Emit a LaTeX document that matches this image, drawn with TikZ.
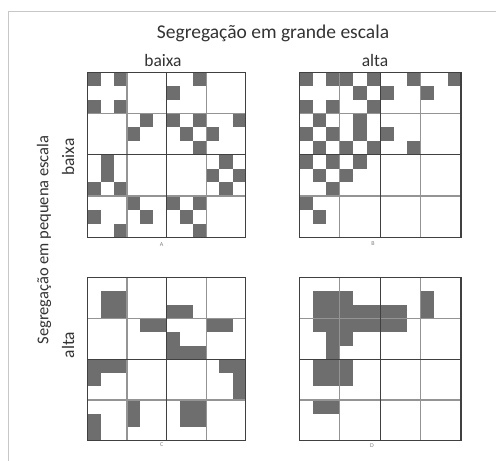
\documentclass[tikz,border=0pt]{standalone}
\usepackage{fontspec}
\setmainfont{Carlito}
\tikzset{
  gfill/.style={fill=black!57},
  thinline/.style={draw=black!42, line width=1.2pt},
  thickline/.style={draw=black!75, line width=1.3pt},
  framel/.style={draw=black!22, line width=1pt},
  lbl/.style={text=black!80, font=\fontsize{17.5}{20}\selectfont, inner sep=0pt},
  ttl/.style={text=black!80, font=\fontsize{19.5}{22}\selectfont, inner sep=0pt},
  vlbl/.style={text=black!80, font=\fontsize{16.5}{19}\selectfont, inner sep=0pt, rotate=90},
  vlbl2/.style={text=black!80, font=\fontsize{17.5}{20}\selectfont, inner sep=0pt, rotate=90},
  tiny/.style={text=black!50, font=\fontsize{6}{7}\selectfont, inner sep=0pt}
}
\newcommand\mygridlines{%
  \foreach \k in {3,9} {\draw[thinline] (\k,0) -- (\k,12); \draw[thinline] (0,\k) -- (12,\k);}
  \draw[thickline] (6,0) -- (6,12);
  \draw[thickline] (0,6) -- (12,6);
  \draw[thickline] (0,0) rectangle (12,12);
}
\begin{document}
\begin{tikzpicture}[x=1pt,y=-1pt]
\useasboundingbox (0,0) rectangle (496,461);
\fill[white] (0,0) rectangle (496,461);
% frame (top and left edges)
\draw[framel] (8.3,461) -- (8.3,11.7) -- (496,11.7);
% titles
\node[ttl] (title) at (273,33) {Segregação em grande escala};
\node[lbl] (colA) at (163,60) {baixa};
\node[lbl] (colB) at (375,60) {alta};
\node[vlbl] (vtitle) at (44,240) {Segregação em pequena escala};
\node[vlbl2] (rowA) at (68,157) {baixa};
\node[vlbl2] (rowC) at (68,345) {alta};
% Grid A
\begin{scope}[shift={(87.3pt,-72.3pt)}, x=13.2pt, y=-13.75pt]
  \foreach \c/\r in {0/0,2/0,0/2,2/2,8/0,6/1,4/3,3/4,6/3,8/3,7/4,8/5,11/3,9/4,
    1/6,1/7,0/8,2/8,10/6,9/7,11/7,10/8,0/10,2/11,3/9,4/10,6/9,8/9,7/10,8/11}
    \fill[gfill] (\c,\r) rectangle ++(1,1);
  \mygridlines
\end{scope}
% Grid B
\begin{scope}[shift={(299.3pt,-72.3pt)}, x=13.475pt, y=-13.75pt]
  \foreach \c/\r in {0/0,2/0,3/0,5/0,8/0,11/0,4/1,6/1,9/1,0/2,2/2,5/2,1/3,4/3,
    0/4,2/4,4/4,6/4,1/5,3/5,5/5,8/5,0/6,2/6,4/6,1/7,3/7,2/8,0/9,1/10}
    \fill[gfill] (\c,\r) rectangle ++(1,1);
  \mygridlines
\end{scope}
% Grid C
\begin{scope}[shift={(87.3pt,-277.7pt)}, x=13.2pt, y=-13.58pt]
  \foreach \a/\b/\c/\d in {1/1/3/3,6/2/8/3,4/3/6/4,6/4/7/6,6/5/9/6,9/3/11/4,0/6/3/7,
    0/7/1/8,10/6/12/7,11/7/12/9,0/10/1/12,3/9/4/11,7/9/9/11}
    \fill[gfill] (\a,\b) rectangle (\c,\d);
  \mygridlines
\end{scope}
% Grid D
\begin{scope}[shift={(299.3pt,-277.7pt)}, x=13.475pt, y=-13.58pt]
  \foreach \a/\b/\c/\d in {1/1/4/4,4/2/8/4,2/4/4/5,2/5/3/6,1/6/4/8,1/9/3/10,9/1/10/3}
    \fill[gfill] (\a,\b) rectangle (\c,\d);
  \mygridlines
\end{scope}
% small letters
\node[tiny] (la) at (161.7,245) {A};
\node[tiny] (lb) at (373,244) {B};
\node[tiny] (lc) at (161.7,445) {C};
\node[tiny] (ld) at (372,446) {D};
\end{tikzpicture}
\end{document}
